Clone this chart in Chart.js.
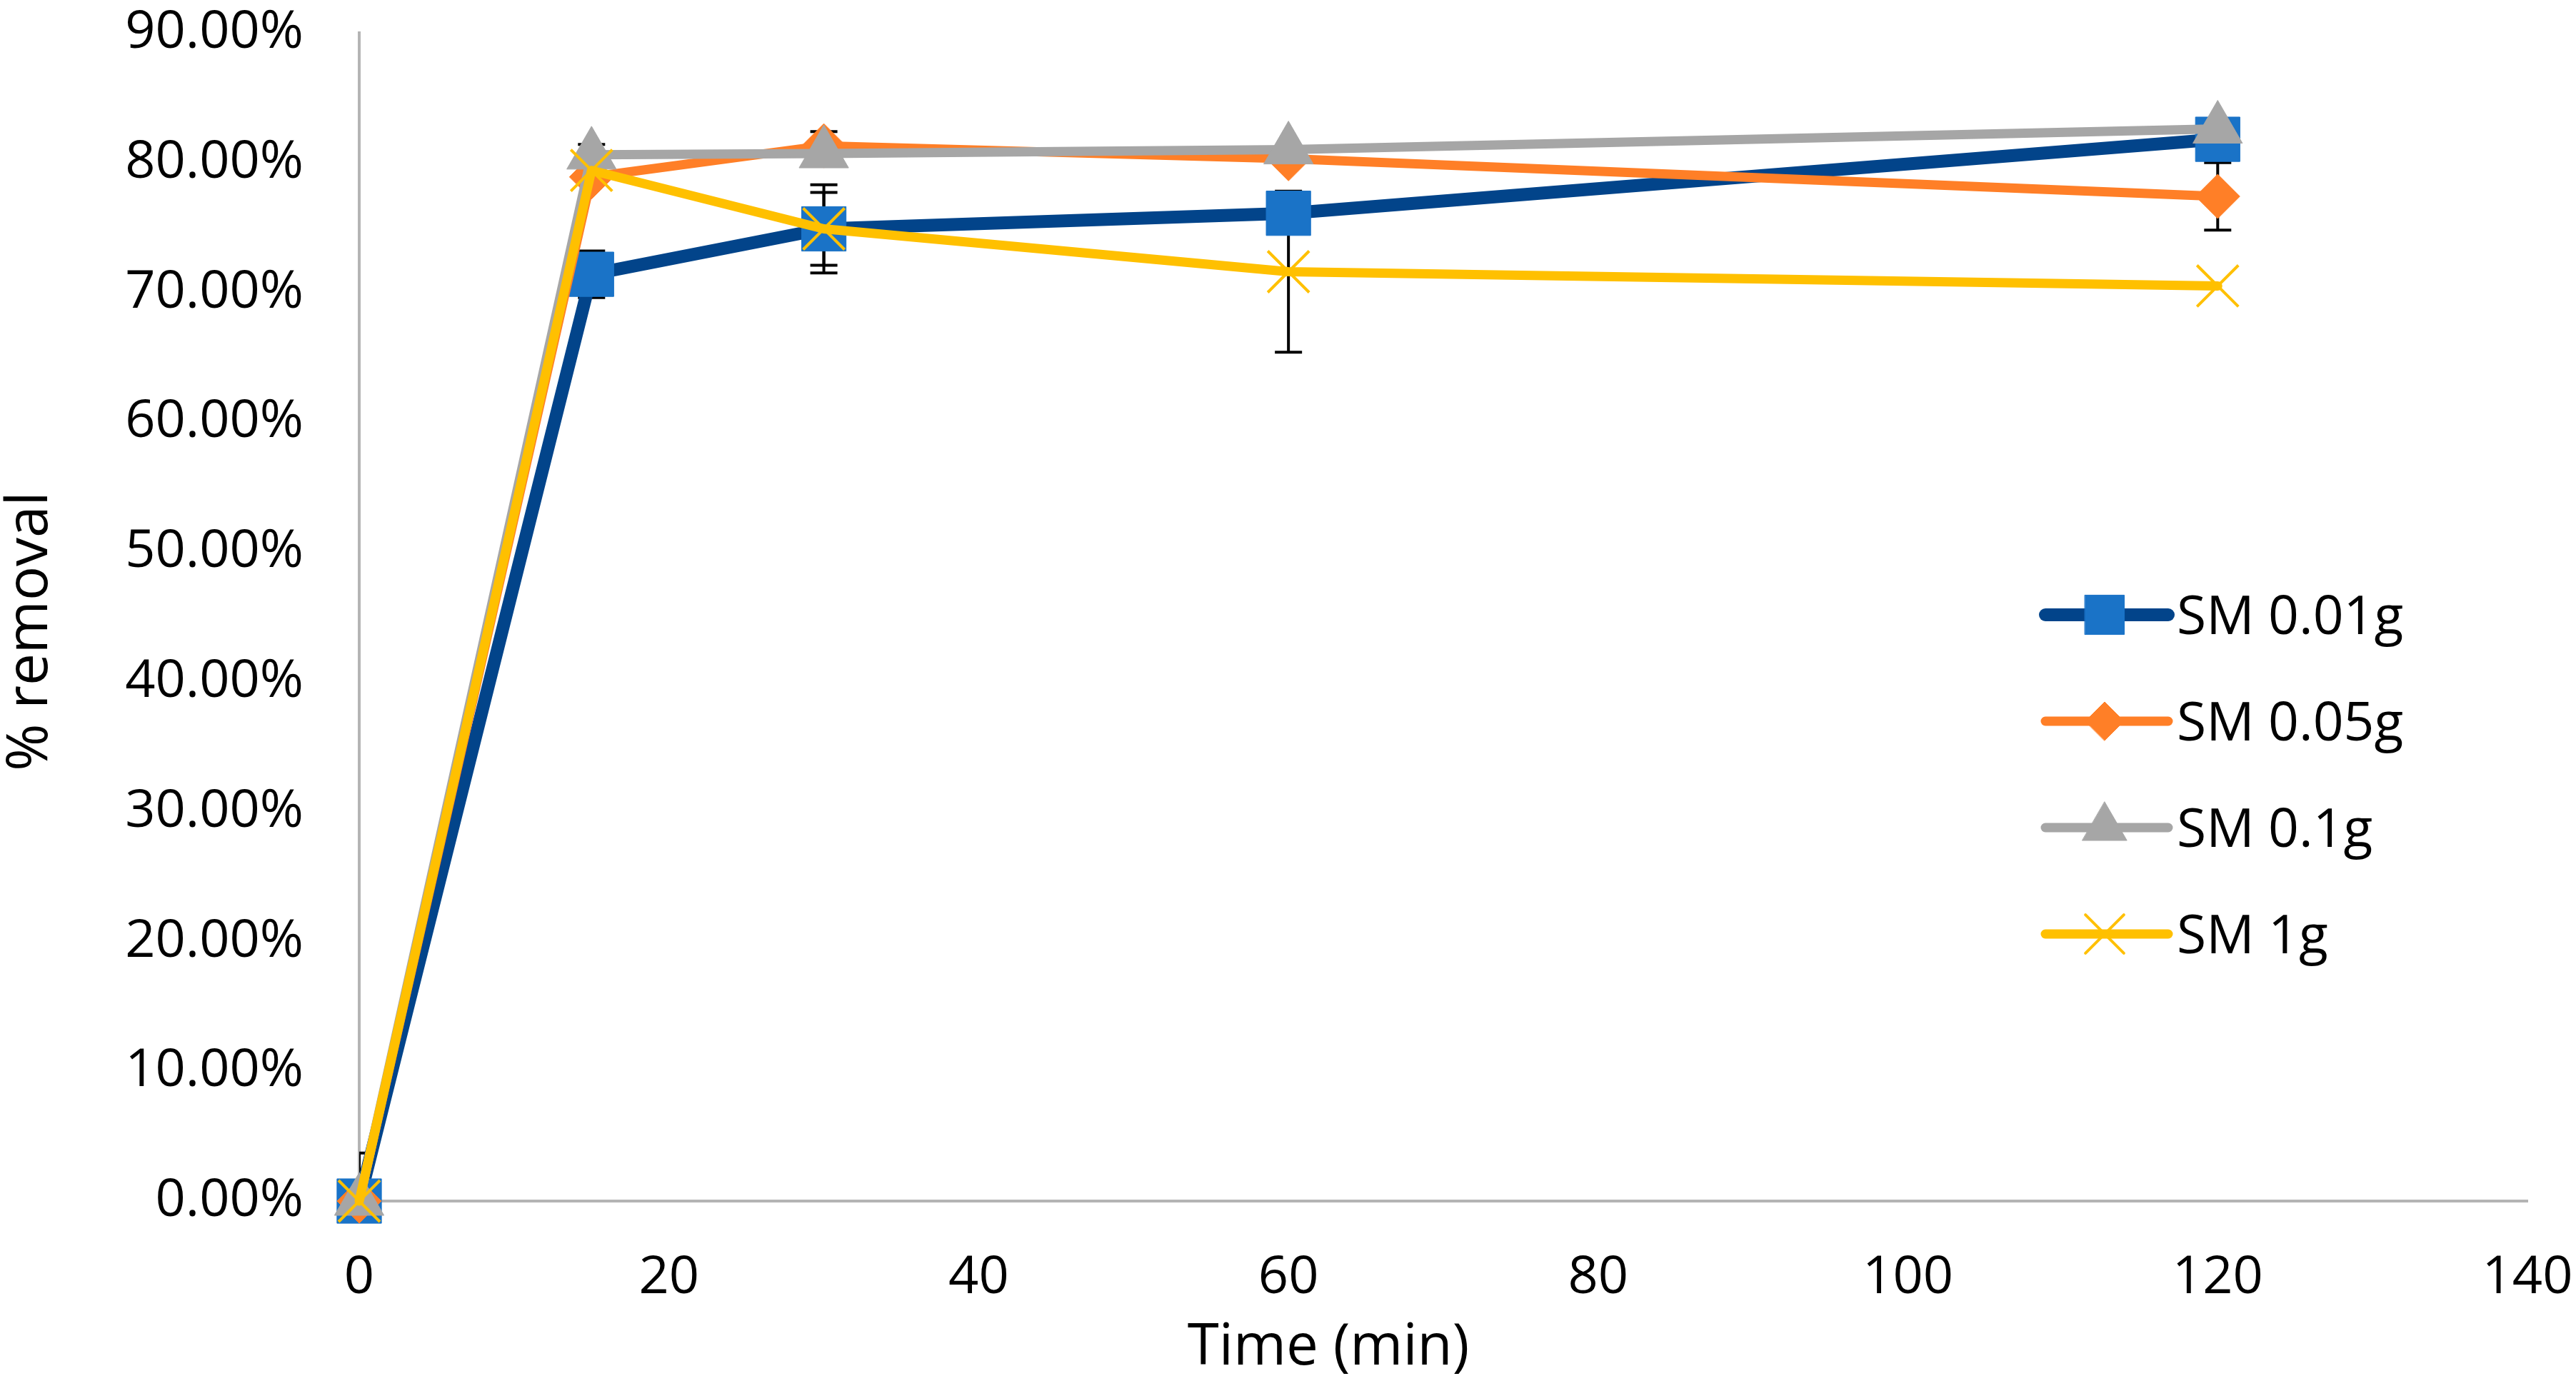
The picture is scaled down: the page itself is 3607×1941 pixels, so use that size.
<!DOCTYPE html>
<html>
<head>
<meta charset="utf-8">
<title>% removal vs time</title>
<script src="https://cdn.jsdelivr.net/npm/chart.js@4/dist/chart.umd.min.js"></script>
<style>
  html, body { margin: 0; padding: 0; background: #fff; }
  canvas { display: block; }
</style>
</head>
<body>
<canvas id="removal-chart" width="3607" height="1941"></canvas>
<script>
// values (% removal)
var times = [0, 15, 30, 60, 120];
var seriesNames = ['SM 0.01g', 'SM 0.05g', 'SM 0.1g', 'SM 1g'];

var sm001 = [0, 71.4, 74.9, 76.1, 81.8];
var sm005 = [0, 78.9, 81.3, 80.3, 77.4];
var sm01 = [0, 80.6, 80.7, 81.0, 82.6];
var sm1 = [0, 79.4, 74.9, 71.6, 70.5];

// +/- error bar sizes
var err001 = [3.7, 1.8, 3.4, 0, 0];
var err005 = [0, 0, 1.1, 0, 2.6];
var err01 = [0, 0.8, 0, 0, 0];
var err1 = [0, 0, 2.8, 6.2, 0];

var xTicks = [0, 20, 40, 60, 80, 100, 120, 140];
var yTicks = [0, 10, 20, 30, 40, 50, 60, 70, 80, 90];

var xTitle = 'Time (min)';
var yTitle = '% removal';

(function(module) {

  var chartView = {};

  var removalChart;
  chartView.chartDrawn = false;

  var FONT = '"Open Sans", "Noto Sans", sans-serif';

  function toPoints(values) {
    return values.map(function(v, i) { return { x: times[i], y: v }; });
  }

  var styles = [
    { line: '#02448A', fill: '#1A73C7', pointStyle: 'rect', radius: 44, legendRadius: 39, width: 18, pw: 1 },
    { line: '#FF7F27', fill: '#FF7F27', pointStyle: 'rectRot', radius: 31, legendRadius: 27, width: 13, pw: 1 },
    { line: '#A6A6A6', fill: '#A6A6A6', pointStyle: 'triangle', radius: 40, legendRadius: 36, width: 13, pw: 1 },
    { line: '#FFC000', fill: '#FFC000', pointStyle: 'crossRot', radius: 41, legendRadius: 38, width: 13, pw: 4 }
  ];

  var values = [sm001, sm005, sm01, sm1];
  var errors = [err001, err005, err01, err1];

  var datasets = values.map(function(vals, i) {
    var s = styles[i];
    return {
      label: seriesNames[i],
      data: toPoints(vals),
      errors: errors[i],
      borderColor: s.line,
      borderWidth: s.width,
      borderJoinStyle: 'round',
      borderCapStyle: 'round',
      backgroundColor: s.fill,
      pointStyle: s.pointStyle,
      pointRadius: s.radius,
      pointBackgroundColor: s.fill,
      pointBorderColor: s.fill,
      pointBorderWidth: s.pw,
      tension: 0,
      clip: false,
      order: 4 - i
    };
  });

  /// ERROR BARS ///

  var errorBars = {
    id: 'errorBars',
    beforeDatasetsDraw: function(chart) {
      var ctx = chart.ctx;
      var area = chart.chartArea;
      var xs = chart.scales.x, ys = chart.scales.y;
      ctx.save();
      ctx.beginPath();
      ctx.rect(area.left, area.top, area.right - area.left, area.bottom - area.top);
      ctx.clip();
      ctx.strokeStyle = '#000';
      ctx.lineWidth = 4;
      chart.data.datasets.forEach(function(ds) {
        ds.data.forEach(function(p, j) {
          var e = ds.errors[j];
          if (!e) return;
          var px = xs.getPixelForValue(p.x);
          var top = ys.getPixelForValue(p.y + e);
          var bot = ys.getPixelForValue(p.y - e);
          ctx.beginPath();
          ctx.moveTo(px, top);
          ctx.lineTo(px, bot);
          ctx.moveTo(px - 19, top);
          ctx.lineTo(px + 19, top);
          ctx.moveTo(px - 19, bot);
          ctx.lineTo(px + 19, bot);
          ctx.stroke();
        });
      });
      ctx.restore();
    }
  };

  /// AXIS TITLES + LEGEND ///

  var axisTitles = {
    id: 'axisTitles',
    afterDraw: function(chart) {
      var ctx = chart.ctx;
      ctx.save();
      ctx.fillStyle = '#000';
      ctx.font = '80px ' + FONT;
      ctx.textAlign = 'center';
      ctx.textBaseline = 'middle';
      ctx.fillText(xTitle, 1860, 1888);
      ctx.translate(43, 884);
      ctx.rotate(-Math.PI / 2);
      ctx.fillText(yTitle, 0, 0);
      ctx.restore();
    }
  };

  var legendBox = {
    id: 'legendBox',
    afterDraw: function(chart) {
      var ctx = chart.ctx;
      var top = 861, gap = 149;
      var x0 = 2864, x1 = 3036, mx = 2947, tx = 3048;
      var size = 75;
      chart.data.datasets.forEach(function(ds, i) {
        var s = styles[i];
        var y = top + i * gap;
        ctx.save();
        ctx.strokeStyle = s.line;
        ctx.lineWidth = s.width;
        ctx.lineCap = 'round';
        ctx.beginPath();
        ctx.moveTo(x0, y);
        ctx.lineTo(x1, y);
        ctx.stroke();
        ctx.fillStyle = s.fill;
        ctx.strokeStyle = s.fill;
        ctx.lineWidth = s.pw;
        Chart.helpers.drawPoint(ctx, {
          pointStyle: s.pointStyle,
          radius: s.legendRadius,
          rotation: 0,
          borderWidth: s.pw
        }, mx, y);
        ctx.fillStyle = '#000';
        ctx.font = size + 'px ' + FONT;
        ctx.textAlign = 'left';
        ctx.textBaseline = 'alphabetic';
        ctx.fillText(ds.label, tx, y + size * 0.357);
        ctx.restore();
      });
    }
  };

  /// CHART ///

  chartView.drawChart = function() {
    Chart.defaults.font.family = FONT;
    Chart.defaults.color = '#000';
    var ctx = document.getElementById('removal-chart').getContext('2d');
    removalChart = new Chart(ctx, {
      type: 'line',
      data: { datasets: datasets },
      options: {
        responsive: false,
        animation: false,
        devicePixelRatio: 1,
        events: [],
        layout: { padding: { left: 0, top: 46, right: 68, bottom: 0 } },
        plugins: {
          legend: { display: false },
          tooltip: { enabled: false }
        },
        scales: {
          x: {
            type: 'linear',
            min: 0,
            max: 140,
            afterBuildTicks: function(scale) {
              scale.ticks = xTicks.map(function(v) { return { value: v }; });
            },
            afterFit: function(scale) { scale.height = 259; },
            grid: { display: false, drawTicks: true, tickLength: 64 },
            border: { display: true, color: '#B4B4B4', width: 4 },
            ticks: { padding: 0, font: { size: 74 }, maxRotation: 0 }
          },
          y: {
            min: 0,
            max: 90,
            afterBuildTicks: function(scale) {
              scale.ticks = yTicks.map(function(v) { return { value: v }; });
            },
            afterFit: function(scale) { scale.width = 503; },
            grid: { display: false, drawTicks: true, tickLength: 78 },
            border: { display: true, color: '#B4B4B4', width: 4 },
            ticks: {
              padding: 0,
              font: { size: 74 },
              callback: function(v) { return v.toFixed(2) + '%'; }
            }
          }
        }
      },
      plugins: [errorBars, axisTitles, legendBox]
    });
    chartView.chartDrawn = true;
  };

  module.chartView = chartView;

})(window);

chartView.drawChart();
</script>
</body>
</html>
